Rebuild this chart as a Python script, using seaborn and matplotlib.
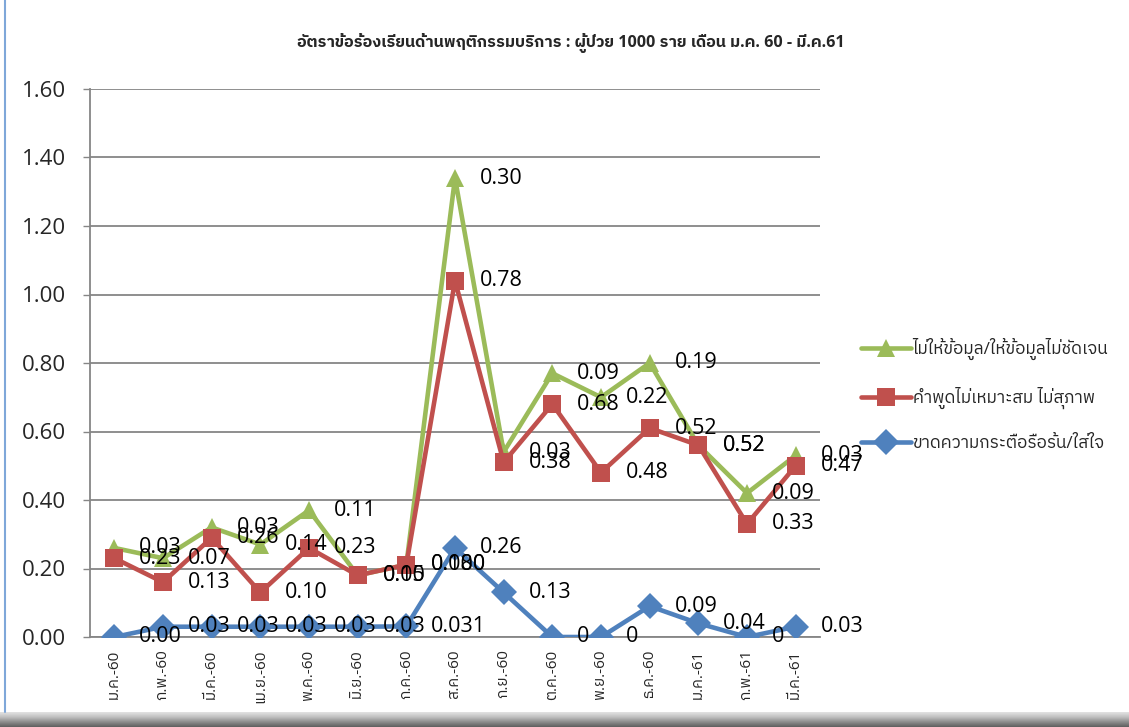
import numpy as np
import pandas as pd
import matplotlib
matplotlib.use('Agg')
import matplotlib.pyplot as plt
import seaborn as sns
from matplotlib import font_manager
from matplotlib.ft2font import FT2Font
from matplotlib.lines import Line2D

months = ['ม.ค.-60', 'ก.พ.-60', 'มี.ค.-60', 'เม.ย.-60', 'พ.ค.-60', 'มิ.ย.-60', 'ก.ค.-60',
          'ส.ค.-60', 'ก.ย.-60', 'ต.ค.-60', 'พ.ย.-60', 'ธ.ค.-60', 'ม.ค.-61', 'ก.พ.-61', 'มี.ค.-61']

# stacked from bottom to top
s_blue = 'ขาดความกระตือรือร้น/ใส่ใจ'
s_red = 'คำพูดไม่เหมาะสม ไม่สุภาพ'
s_green = 'ไม่ให้ข้อมูล/ให้ข้อมูลไม่ชัดเจน'

blue_vals = [0.00, 0.03, 0.03, 0.03, 0.03, 0.03, 0.031, 0.26, 0.13, 0.00, 0.00, 0.09, 0.04, 0.00, 0.03]
red_vals = [0.23, 0.13, 0.26, 0.10, 0.23, 0.15, 0.18, 0.78, 0.38, 0.68, 0.48, 0.52, 0.52, 0.33, 0.47]
green_vals = [0.03, 0.07, 0.03, 0.14, 0.11, 0.00, 0.00, 0.30, 0.03, 0.09, 0.22, 0.19, 0.00, 0.09, 0.03]

blue_labels = ['0.00', '0.03', '0.03', '0.03', '0.03', '0.03', '0.031', '0.26', '0.13', '0', '0', '0.09', '0.04', '0', '0.03']
red_labels = ['0.23', '0.13', '0.26', '0.10', '0.23', '0.15', '0.180', '0.78', '0.38', '0.68', '0.48', '0.52', '0.52', '0.33', '0.47']
green_labels = ['0.03', '0.07', '0.03', '0.14', '0.11', '0.00', '0.000', '0.30', '0.03', '0.09', '0.22', '0.19', '0.52', '0.09', '0.03']

colors = {s_green: '#9BBB59', s_red: '#C0504D', s_blue: '#4F81BD'}
markers = {s_green: '^', s_red: 's', s_blue: 'D'}
title = 'อัตราข้อร้องเรียนด้านพฤติกรรมบริการ : ผู้ป่วย 1000 ราย เดือน ม.ค. 60 - มี.ค.61'


def thai_font():
    # look for any installed font that has Thai glyphs
    preferred = []
    others = []
    for f in font_manager.fontManager.ttflist:
        try:
            cmap = FT2Font(f.fname).get_charmap()
        except Exception:
            continue
        if 0x0E2D in cmap:
            if 'Thai' in f.name or 'Tahoma' in f.name:
                preferred.append(f.name)
            else:
                others.append(f.name)
    found = preferred + others
    return found[0] if found else None


sns.set_theme(style='white')
th = thai_font()
fam = ['Open Sans', 'DejaVu Sans']
if th:
    fam = ['Open Sans', th, 'DejaVu Sans']
plt.rcParams['font.family'] = fam

x = np.arange(len(months))
cum_blue = np.array(blue_vals)
cum_red = cum_blue + np.array(red_vals)
cum_green = cum_red + np.array(green_vals)

df = pd.concat([
    pd.DataFrame({'x': x, 'y': cum_green, 'series': s_green}),
    pd.DataFrame({'x': x, 'y': cum_red, 'series': s_red}),
    pd.DataFrame({'x': x, 'y': cum_blue, 'series': s_blue}),
])
order = [s_green, s_red, s_blue]

fig = plt.figure(figsize=(11.29, 7.27), dpi=100)
ax = fig.add_axes([90 / 1129, 1 - 637 / 727, 730 / 1129, 548 / 727])

sns.lineplot(data=df, x='x', y='y', hue='series', style='series', hue_order=order,
             style_order=order, palette=colors, markers=markers, dashes=False,
             linewidth=3.3, markersize=13, markeredgewidth=0, sort=False, ax=ax, zorder=3)

# data labels to the right of each point
for cum, labs in [(cum_green, green_labels), (cum_red, red_labels), (cum_blue, blue_labels)]:
    for xi, yi, t in zip(x, cum, labs):
        ax.annotate(t, (xi, yi), xytext=(18, 0), textcoords='offset points',
                    ha='left', va='center', fontsize=15.5, color='black',
                    family=fam, zorder=5)

ax.set_xlim(-0.5, len(months) - 0.5)
ax.set_ylim(0, 1.6)
ax.set_yticks(np.arange(0, 1.61, 0.2))
ax.set_yticklabels([f'{v:.2f}' for v in np.arange(0, 1.61, 0.2)], fontsize=16, family=fam)
ax.set_xticks(x)
ax.set_xticklabels(months, rotation=90, fontsize=11, family=fam)
ax.tick_params(axis='y', length=5, width=1, color='#868686', pad=12, left=True)
ax.tick_params(axis='x', length=0, pad=9)
ax.set_xlabel('')
ax.set_ylabel('')

ax.yaxis.grid(True, color='#868686', linewidth=1.3)
ax.set_axisbelow(True)
for side in ['top', 'right']:
    ax.spines[side].set_visible(False)
for side in ['left', 'bottom']:
    ax.spines[side].set_color('#868686')
    ax.spines[side].set_linewidth(1.3)

h, l = ax.get_legend_handles_labels()
ax.get_legend().remove()
fig.legend(h, l, loc='center left', bbox_to_anchor=(846 / 1129, 1 - 395 / 727),
           frameon=False, handlelength=2.9, labelspacing=1.55,
           handletextpad=0.1, prop={'family': fam, 'size': 12.3})

fig.text(571 / 1129, 1 - 43 / 727, title, ha='center', va='center', fontsize=11.6,
         fontweight='bold', family=fam)

# window edges from the screenshot
fig.add_artist(Line2D([5 / 1129, 5 / 1129], [15 / 727, 1], color='#7FA7D9', linewidth=1.5))
bar = fig.add_axes([0, 0, 1, 15 / 727])
bar.imshow(np.linspace(0.2, 0.7, 50).reshape(-1, 1), aspect='auto', cmap='Greys',
           vmin=0, vmax=1)
bar.set_axis_off()

fig.savefig('out.png', dpi=100)
